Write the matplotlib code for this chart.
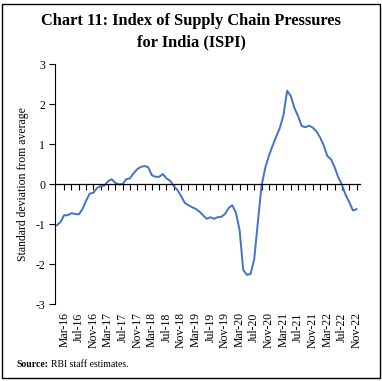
import matplotlib
matplotlib.use("Agg")
import matplotlib.pyplot as plt
import numpy as np
import pandas as pd
from matplotlib.patches import Rectangle

# ISPI values, monthly from Jan-16 to Nov-22 (standard deviation from average)
ispi = [-1.03, -0.95, -0.78, -0.78, -0.73, -0.75, -0.76, -0.63, -0.42, -0.24,
        -0.22, -0.10, -0.05, -0.04, 0.07, 0.12, 0.03, -0.01, 0.00, 0.12,
        0.14, 0.27, 0.37, 0.43, 0.45, 0.42, 0.22, 0.18, 0.18, 0.25,
        0.14, 0.08, -0.05, -0.15, -0.30, -0.47, -0.53, -0.58, -0.62, -0.69,
        -0.78, -0.87, -0.83, -0.87, -0.83, -0.82, -0.75, -0.60, -0.53, -0.72,
        -1.15, -2.15, -2.27, -2.25, -1.88, -0.95, -0.05, 0.40, 0.70, 0.95,
        1.18, 1.40, 1.72, 2.33, 2.20, 1.90, 1.70, 1.45, 1.42, 1.46,
        1.41, 1.32, 1.17, 0.97, 0.70, 0.62, 0.42, 0.17, -0.02, -0.27,
        -0.45, -0.66, -0.63]
months = pd.date_range("2016-01-01", periods=len(ispi), freq="MS")
month_labels = [d.strftime("%b-%y") for d in months]
y_ticks = [-3, -2, -1, 0, 1, 2, 3]

serif = ["Liberation Serif", "DejaVu Serif"]
plt.rcParams["font.family"] = serif

fig = plt.figure(figsize=(3.82, 3.81), dpi=100)
fig.patches.append(Rectangle((0.006, 0.008), 0.988, 0.982, transform=fig.transFigure,
                             fill=False, edgecolor="black", linewidth=1.0))

ax = fig.add_axes([0.144, 0.202, 0.798, 0.630])
x = np.arange(len(ispi))
ax.plot(x, ispi, color="#4472C4", linewidth=1.4)

ax.set_ylim(-3, 3)
ax.set_xlim(-0.5, len(ispi) - 1 + 0.9)
ax.set_yticks(y_ticks)
ax.set_yticklabels([str(v) for v in y_ticks], fontsize=8.5)
ax.tick_params(axis="y", direction="out", length=4, width=0.8, pad=3)

for s in ["top", "right"]:
    ax.spines[s].set_visible(False)
ax.spines["left"].set_linewidth(0.8)
ax.spines["bottom"].set_position(("data", 0))
ax.spines["bottom"].set_linewidth(0.9)

tick_idx = list(range(2, len(ispi), 2))
ax.set_xticks(tick_idx)
ax.set_xticklabels([])
ax.tick_params(axis="x", direction="out", length=4, width=0.8)

sec = ax.secondary_xaxis(0)
lab_idx = list(range(2, len(ispi), 4))
sec.set_xticks(lab_idx)
sec.set_xticklabels([month_labels[i] for i in lab_idx], rotation=90, fontsize=8.5)
sec.tick_params(length=0, pad=6)
sec.spines["bottom"].set_visible(False)

ax.set_ylabel("Standard deviation from average", fontsize=8.5, labelpad=5)

fig.text(0.5, 0.945, "Chart 11: Index of Supply Chain Pressures", ha="center", va="center",
         fontsize=11.8, fontweight="bold")
fig.text(0.5, 0.888, "for India (ISPI)", ha="center", va="center",
         fontsize=11.8, fontweight="bold")

t1 = fig.text(0.042, 0.042, "Source:", fontsize=7, fontweight="bold", va="center")
fig.canvas.draw()
bb = t1.get_window_extent()
fig.text(bb.x1 / fig.bbox.width + 0.008, 0.042, "RBI staff estimates.", fontsize=7, va="center")

fig.savefig("out.png", dpi=100)
